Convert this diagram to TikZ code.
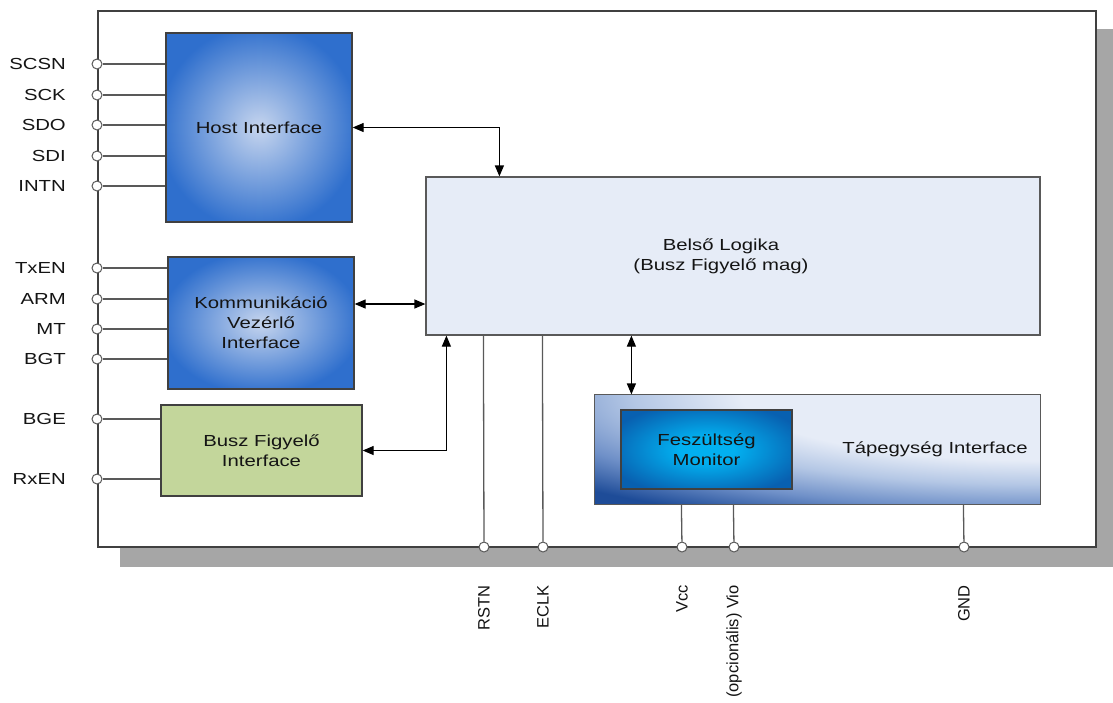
\documentclass[tikz,border=0pt]{standalone}
\usepackage{fontspec}
\setmainfont{Liberation Sans}
\usetikzlibrary{arrows.meta}

\definecolor{hostin}{HTML}{C6D5EE}
\definecolor{hostout}{HTML}{2F6FCD}
\definecolor{monin}{HTML}{02B0F0}
\definecolor{monout}{HTML}{0860B0}
\definecolor{logicfill}{HTML}{E6ECF7}
\definecolor{taplight}{HTML}{B4C7E5}
\definecolor{tapmid}{HTML}{6F90C8}
\definecolor{tapdark}{HTML}{1E4C98}
\definecolor{busfill}{HTML}{C3D69B}
\definecolor{wire}{HTML}{595959}
\definecolor{frame}{HTML}{404040}
\definecolor{shadowgray}{HTML}{A6A6A6}
\definecolor{ink}{HTML}{141414}

\pgfdeclareradialshading{hostshade}{\pgfpoint{0bp}{0bp}}{color(0bp)=(hostin); color(27bp)=(hostout); color(50bp)=(hostout)}
\pgfdeclareradialshading{monshade}{\pgfpoint{0bp}{0bp}}{color(0bp)=(monin); color(8bp)=(monin); color(30bp)=(monout); color(50bp)=(monout)}
% light corner at the centre, dark towards the rim
\pgfdeclareradialshading{tapshade}{\pgfpoint{0bp}{0bp}}{color(0bp)=(logicfill); color(11bp)=(logicfill); color(15bp)=(taplight); color(19bp)=(tapmid); color(23bp)=(tapdark); color(50bp)=(tapdark)}

% horizontally widened text
\newcommand\wl[1]{\scalebox{1.27}[1]{#1}}

\tikzset{
  txt/.style={font=\fontsize{16}{20}\selectfont, text=ink, align=center},
  block/.style={draw=frame, line width=1.3pt, inner sep=0pt, txt},
  hostblock/.style={block, shading=hostshade},
  busblock/.style={block, fill=busfill},
  logicblock/.style={draw=wire, line width=1.2pt, fill=logicfill, inner sep=0pt},
  tapblock/.style={draw=wire, line width=1.2pt, inner sep=0pt},
  monblock/.style={block, shading=monshade},
  pin/.style={circle, draw=wire, fill=white, line width=1pt, minimum size=10pt, inner sep=0pt},
  wireline/.style={draw=wire, line width=1.3pt},
  biarr/.style={draw=black, line width=1.2pt, {Triangle[length=11pt,width=9pt]}-{Triangle[length=11pt,width=9pt]}},
  lbl/.style={txt, anchor=east, inner sep=0pt},
  vlbl/.style={font=\fontsize{16.5}{20}\selectfont, text=ink, rotate=90, anchor=east, inner sep=0pt},
}

\begin{document}
\begin{tikzpicture}[x=1pt, y=-1pt]
\useasboundingbox (0,0) rectangle (1113,702);

% chip body with drop shadow
\fill[shadowgray] (120,29) rectangle (1113,567);
\draw[draw=frame, line width=2pt, fill=white] (98,11) rectangle (1096,547);

% functional blocks
\node[hostblock, minimum width=186pt, minimum height=189pt] (host) at (259,127.5) {\wl{Host Interface}};
\node[hostblock, minimum width=186pt, minimum height=132pt] (komm) at (261,323) {\wl{Kommunikáció}\\\wl{Vezérlő}\\\wl{Interface}};
\node[busblock, minimum width=201pt, minimum height=91pt] (busz) at (261.5,450.5) {\wl{Busz Figyelő}\\\wl{Interface}};
\node[logicblock, minimum width=614pt, minimum height=158pt] (logic) at (733,256) {};
\node[txt] (logicText) at (721,256) {\wl{Belső Logika}\\\wl{(Busz Figyelő mag)}};

% power block: diagonal fade from the upper right corner
\node[tapblock, minimum width=445pt, minimum height=109pt] (tap) at (817.5,449.5) {};
\begin{scope}
  \clip (tap.south west) rectangle (tap.north east);
  \shade[shading=tapshade] (tap.north east) ellipse [x radius=680pt, y radius=150pt];
\end{scope}
\draw[draw=wire, line width=1.2pt] (tap.south west) rectangle (tap.north east);

\node[monblock, minimum width=171pt, minimum height=79pt] (mon) at (706.5,449.5) {\wl{Feszültség}\\\wl{Monitor}};
\node[txt] (tapText) at (935,449) {\wl{Tápegység Interface}};

% left-side pins
\foreach \name/\yy/\blk in {SCSN/64/host, SCK/95/host, SDO/125/host, SDI/156/host, INTN/186/host,
                            TxEN/268/komm, ARM/299/komm, MT/329/komm, BGT/359/komm,
                            BGE/419/busz, RxEN/479/busz}{
  \node[pin] (p\name) at (97,\yy) {};
  \node[lbl] (t\name) at (66,\yy) {\wl{\name}};
  \draw[wireline] (p\name) -- (p\name -| \blk.west);
}

% bottom pins
\node[pin] (pRSTN) at (484,547) {};
\node[pin] (pECLK) at (543,547) {};
\node[pin] (pVcc) at (682,547) {};
\node[pin] (pVio) at (734,547) {};
\node[pin] (pGND) at (964,547) {};
\draw[wireline] ([xshift=58pt]logic.south west) -- (pRSTN);
\draw[wireline] ([xshift=117pt]logic.south west) -- (pECLK);
\draw[wireline] ([xshift=87pt]tap.south west) -- (pVcc);
\draw[wireline] ([xshift=139pt]tap.south west) -- (pVio);
\draw[wireline] ([xshift=369pt]tap.south west) -- (pGND);

\node[vlbl] (tRSTN) at (484,585) {RSTN};
\node[vlbl] (tECLK) at (543,585) {ECLK};
\node[vlbl] (tVcc) at (682,585) {Vcc};
\node[vlbl] (tVio) at (734,585) {(opcionális) Vio};
\node[vlbl] (tGND) at (964,585) {GND};

% bidirectional data paths
\draw[biarr] (host.east) -| ([xshift=74pt]logic.north west);
\draw[biarr] ([yshift=19pt]komm.east) -- ([yshift=19pt]komm.east -| logic.west);
\draw[biarr] (busz.east) -| ([xshift=21pt]logic.south west);
\draw[biarr] ([xshift=37pt]tap.north west) -- ([xshift=37pt]tap.north west |- logic.south);
\end{tikzpicture}
\end{document}
